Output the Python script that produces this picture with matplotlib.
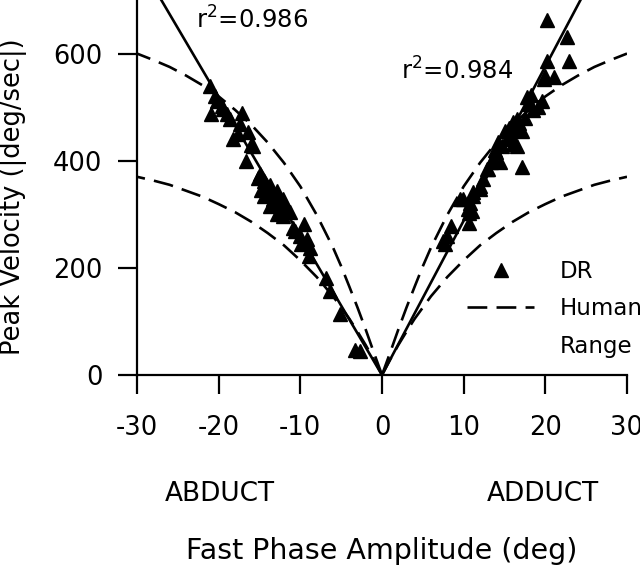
import numpy as np
import matplotlib
matplotlib.use("Agg")
import matplotlib.pyplot as plt
from matplotlib.lines import Line2D

plt.rcParams['font.family'] = ['DejaVu Sans']
plt.rcParams['mathtext.fontset'] = 'dejavusans'
plt.rcParams['axes.unicode_minus'] = False

# ---- data ----
abduct_amp = [-21.1, -20.2, -20.9, -19.0, -19.6, -17.1, -17.4, -16.4, -18.2, -17.6,
              -15.8, -16.0, -16.6, -14.9, -14.5, -14.1, -13.7, -12.9, -14.5, -13.3,
              -12.1, -12.5, -11.7, -13.7, -12.9, -12.1, -10.9, -9.6, -10.0, -9.2,
              -8.8, -9.0, -6.8, -6.4, -5.2, -3.3, -2.7, -15.2, -14.8, -13.9,
              -13.0, -11.3, -10.6, -9.9, -20.5, -18.6, -19.5]
abduct_vel = [540, 512, 488, 488, 503, 490, 469, 454, 440, 450,
              428, 430, 399, 375, 362, 351, 354, 344, 334, 328,
              328, 316, 313, 316, 300, 297, 275, 281, 259, 253,
              238, 222, 182, 157, 113, 47, 44, 368, 345, 338,
              322, 305, 269, 245, 520, 478, 496]

adduct_amp = [20.2, 22.6, 22.9, 20.2, 20.0, 21.0, 19.8, 17.7, 18.3, 19.6,
              19.1, 18.5, 16.5, 17.1, 16.1, 15.7, 15.3, 16.5, 17.1, 14.7,
              14.0, 13.4, 14.4, 12.8, 12.4, 12.0, 11.2, 9.6, 10.8, 10.6,
              10.7, 8.5, 7.9, 7.7, 16.1, 16.7, 16.0, 13.6, 13.0, 12.0,
              11.2, 9.9, 10.5, 11.0, 15.0, 14.2, 15.5, 17.5, 18.0, 16.8,
              13.8, 7.5]
adduct_vel = [663, 631, 587, 587, 559, 556, 553, 519, 522, 512,
              500, 494, 478, 456, 466, 450, 441, 428, 388, 428,
              416, 397, 397, 384, 366, 353, 341, 328, 322, 303,
              284, 278, 259, 244, 472, 459, 431, 403, 384, 347,
              334, 328, 309, 306, 455, 435, 462, 480, 505, 470,
              420, 250]

# regression slopes (deg/sec per deg)
abduct_slope = -25.9
adduct_slope = 28.8
abduct_r2 = r"r$^2$=0.986"
adduct_r2 = r"r$^2$=0.984"

# human range (|amplitude| -> |velocity|), symmetric on both sides
range_amp = [0, 1, 2, 3, 4, 5, 6, 8, 10, 12, 14, 16, 18, 20, 22, 24, 26, 28, 30]
human_upper = [0, 42, 85, 126, 165, 203, 238, 299, 352, 396, 434, 467, 495, 520,
               541, 559, 575, 588, 600]
human_lower = [0, 29, 56, 81, 105, 126, 147, 183, 214, 242, 265, 286, 304, 319,
               333, 344, 355, 363, 370]

x_ticks = [-30, -20, -10, 0, 10, 20, 30]
y_ticks = [0, 200, 400, 600]

# ---- figure ----
fig = plt.figure(figsize=(6.4, 5.68), dpi=100)
ax = fig.add_axes([137 / 640, 1 - 375 / 568, 490 / 640, 375 / 568])
ax.set_xlim(-30, 30)
ax.set_ylim(0, 700)

LW = 1.9
dash = (0, (7.5, 3.5))
ra = np.array(range_amp)
for sgn in (-1, 1):
    ax.plot(sgn * ra, human_upper, color='k', lw=LW, ls=dash)
    ax.plot(sgn * ra, human_lower, color='k', lw=LW, ls=dash)

xl = np.array([0, -30])
ax.plot(xl, abduct_slope * xl, color='k', lw=LW)
xr = np.array([0, 30])
ax.plot(xr, adduct_slope * xr, color='k', lw=LW)

MS = 10.5
ax.plot(abduct_amp, abduct_vel, ls='none', marker='^', ms=MS, color='k', mec='k')
ax.plot(adduct_amp, adduct_vel, ls='none', marker='^', ms=MS, color='k', mec='k')

ax.text(-15.9, 647, abduct_r2, ha='center', va='baseline', fontsize=17.5)
ax.text(9.2, 551, adduct_r2, ha='center', va='baseline', fontsize=17.5)

for s in ('top', 'right'):
    ax.spines[s].set_visible(False)
for s in ('left', 'bottom'):
    ax.spines[s].set_linewidth(1.6)

ax.set_xticks(x_ticks)
ax.set_yticks(y_ticks)
ax.tick_params(axis='both', direction='out', length=14, width=1.6, labelsize=18.5)
ax.tick_params(axis='x', pad=15)
ax.tick_params(axis='y', pad=11)

ax.set_xlabel("Fast Phase Amplitude (deg)", fontsize=20.5)
ax.xaxis.set_label_coords(0.5, (375 - 551) / 375)
ax.xaxis.label.set_verticalalignment('center')
ax.set_ylabel("Peak Velocity (|deg/sec|)", fontsize=18.5)
ax.yaxis.set_label_coords((13 - 137) / 490, (375 - 197) / 375)
ax.yaxis.label.set_verticalalignment('center')

fig.text(220 / 640, 1 - 501 / 568, "ABDUCT", ha='center', va='baseline', fontsize=19)
fig.text(543 / 640, 1 - 501 / 568, "ADDUCT", ha='center', va='baseline', fontsize=19)

handles = [Line2D([], [], ls='none', marker='^', ms=MS, color='k'),
           Line2D([], [], ls=dash, lw=LW, color='k'),
           Line2D([], [], ls='none')]
ax.legend(handles, ['DR', 'Human', 'Range'], loc='upper left',
          bbox_to_anchor=((467 - 137) / 490, (375 - 260) / 375),
          frameon=False, fontsize=16.5, handlelength=2.93, handletextpad=1.13,
          labelspacing=0.63, borderpad=0, borderaxespad=0, numpoints=1)

fig.savefig("out.png", dpi=100)
